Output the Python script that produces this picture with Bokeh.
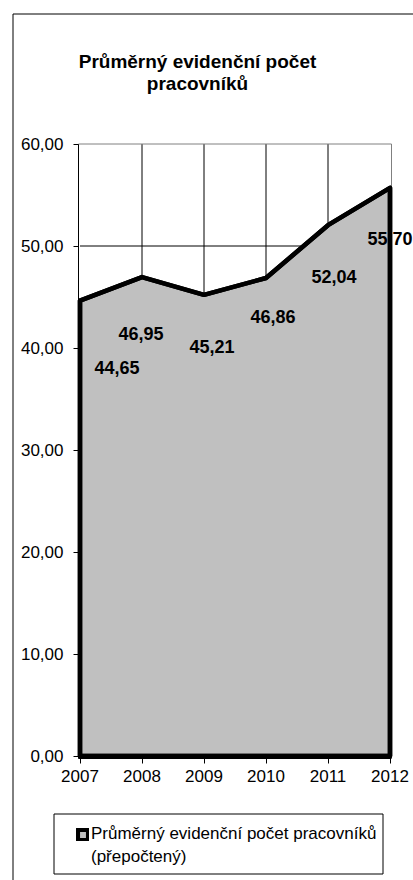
from bokeh.plotting import figure
from bokeh.models import (Range1d, FixedTicker, CustomJSTickFormatter, ColumnDataSource,
                          LabelSet, Label, Legend, LegendItem, BoxAnnotation)
from bokeh.core.properties import value
from bokeh.embed import file_html
from bokeh.resources import INLINE

# ---- data ----
years = [2007, 2008, 2009, 2010, 2011, 2012]
values = [44.65, 46.95, 45.21, 46.86, 52.04, 55.70]
y_ticks = [0, 10, 20, 30, 40, 50, 60]
grid_y = [10, 20, 30, 40, 50]
grid_x = [2008, 2009, 2010, 2011]
title_lines = ["Průměrný evidenční počet", "pracovníků"]
legend_lines = ["Průměrný evidenční počet pracovníků", "(přepočtený)"]
value_labels = [f"{v:.2f}".replace(".", ",") for v in values]

# ---- label placement offsets (pixels, style only) ----
label_dx = [37, -1, 8, 7, 6, 0]
label_dy = [-67, -56, -52, -38, -51, -51]

FONT = "Liberation Sans"
W, H = 413, 880

# pixel anchors of the plot area (canvas pixels)
PX_FIRST, PX_LAST = 79.5, 389.5     # x of first / last year
PY_ZERO, PY_TOP = 755.5, 143.5      # y of 0 and of top tick
SX = (PX_LAST - PX_FIRST) / (years[-1] - years[0])
SY = (PY_ZERO - PY_TOP) / (y_ticks[-1] - y_ticks[0])
X0 = years[0] - PX_FIRST / SX
Y1 = y_ticks[-1] + PY_TOP / SY
PAD_X = 1.5 / SX
PAD_Y = 2 / SY


def x_at(px):
    return X0 + px / SX


def y_at(py):
    return Y1 - py / SY


p = figure(width=W, height=H, output_backend="svg", toolbar_location=None, title=None,
           x_range=Range1d(x_at(0), x_at(W)), y_range=Range1d(y_at(H), y_at(0)),
           min_border=0, min_border_left=0, min_border_right=0,
           min_border_top=0, min_border_bottom=0)
p.background_fill_color = "white"
p.border_fill_color = "white"
p.outline_line_color = None
p.xgrid.visible = False
p.ygrid.visible = False

# axes (drawn at fixed data positions, limited by bounds)
p.yaxis.ticker = FixedTicker(ticks=y_ticks)
p.yaxis.formatter = CustomJSTickFormatter(code="return tick.toFixed(2).replace('.', ',');")
p.xaxis.ticker = FixedTicker(ticks=years)
p.yaxis.fixed_location = years[0] - PAD_X
p.xaxis.fixed_location = y_ticks[0] - PAD_Y
p.yaxis.bounds = (y_ticks[0] - PAD_Y, y_ticks[-1])
p.xaxis.bounds = (years[0] - PAD_X, years[-1] + PAD_X)
for ax in (p.xaxis[0], p.yaxis[0]):
    ax.axis_line_color = "black"
    ax.major_tick_line_color = "black"
    ax.major_tick_out = 5
    ax.major_tick_in = 0
    ax.minor_tick_line_color = None
    ax.major_label_text_font = FONT
    ax.major_label_text_font_size = "17px"
    ax.major_label_text_color = "black"
p.yaxis.major_label_standoff = 10
p.xaxis.major_label_standoff = 7

# plot-area border (grey) and gridlines (black), limited to the plot area
p.add_layout(BoxAnnotation(left=years[0] - PAD_X, right=years[-1] + PAD_X,
                           bottom=y_ticks[0] - PAD_Y, top=y_ticks[-1],
                           fill_color=None, fill_alpha=0, line_color="#808080", line_width=1,
                           line_alpha=1, line_dash="solid", level="underlay"))
vg = p.segment(x0=grid_x, y0=y_ticks[0], x1=grid_x, y1=y_ticks[-1], line_color="black", line_width=1)
hg = p.segment(x0=years[0], y0=grid_y, x1=years[-1], y1=grid_y, line_color="black", line_width=1)
vg.level = "underlay"
hg.level = "underlay"

# area (its outline also gives the legend glyph)
xs = [years[0]] + years + [years[-1]]
ys = [0] + values + [0]
area = p.patch(xs, ys, fill_color="#c0c0c0", line_color="black", line_width=4.5,
               line_join="round")

# data labels
src = ColumnDataSource(dict(x=years, y=values, text=value_labels, dx=label_dx, dy=label_dy))
labels = LabelSet(x="x", y="y", text="text", x_offset="dx", y_offset="dy", source=src,
                  text_align="center", text_baseline="middle",
                  text_font=value(FONT), text_font_size="18px", text_font_style="bold",
                  text_color="black")
p.add_layout(labels)

# thick outline drawn over the labels too
outline = p.line(xs + [years[0]], ys + [0], line_color="black", line_width=4.5,
                 line_join="round")
outline.level = "overlay"

# title
p.add_layout(Label(x=x_at(197), y=y_at(61), text=title_lines[0],
                   text_align="center", text_baseline="alphabetic", text_font=FONT,
                   text_font_size="19px", text_font_style="bold", text_color="black"))
p.add_layout(Label(x=x_at(197), y=y_at(83), text=title_lines[1],
                   text_align="center", text_baseline="alphabetic", text_font=FONT,
                   text_font_size="19px", text_font_style="bold", text_color="black"))

# outer chart border
p.add_layout(BoxAnnotation(left=x_at(12.5), right=x_at(W + 50), top=y_at(13.5), bottom=y_at(H + 50),
                           fill_color=None, fill_alpha=0, line_color="black", line_width=1,
                           line_alpha=1, line_dash="solid"))

# legend box
p.add_layout(BoxAnnotation(left=x_at(53.5), right=x_at(382.5), top=y_at(813.5), bottom=y_at(873.5),
                           fill_color="white", fill_alpha=1, line_color="black", line_width=1,
                           line_alpha=1, line_dash="solid"))

# legend
r_blank = p.scatter(x=[], y=[], marker="square", size=10, fill_alpha=0, line_alpha=0)
legend = Legend(items=[LegendItem(label=legend_lines[0], renderers=[area]),
                       LegendItem(label=legend_lines[1], renderers=[r_blank])],
                location=(76, H - 867), padding=0, spacing=3, margin=0,
                glyph_width=13, glyph_height=13, label_height=20, label_standoff=2,
                label_text_font=FONT, label_text_font_size="17px", label_text_color="black",
                border_line_color=None, background_fill_alpha=0)
p.add_layout(legend)

open("out.html", "w").write(file_html(p, INLINE))
